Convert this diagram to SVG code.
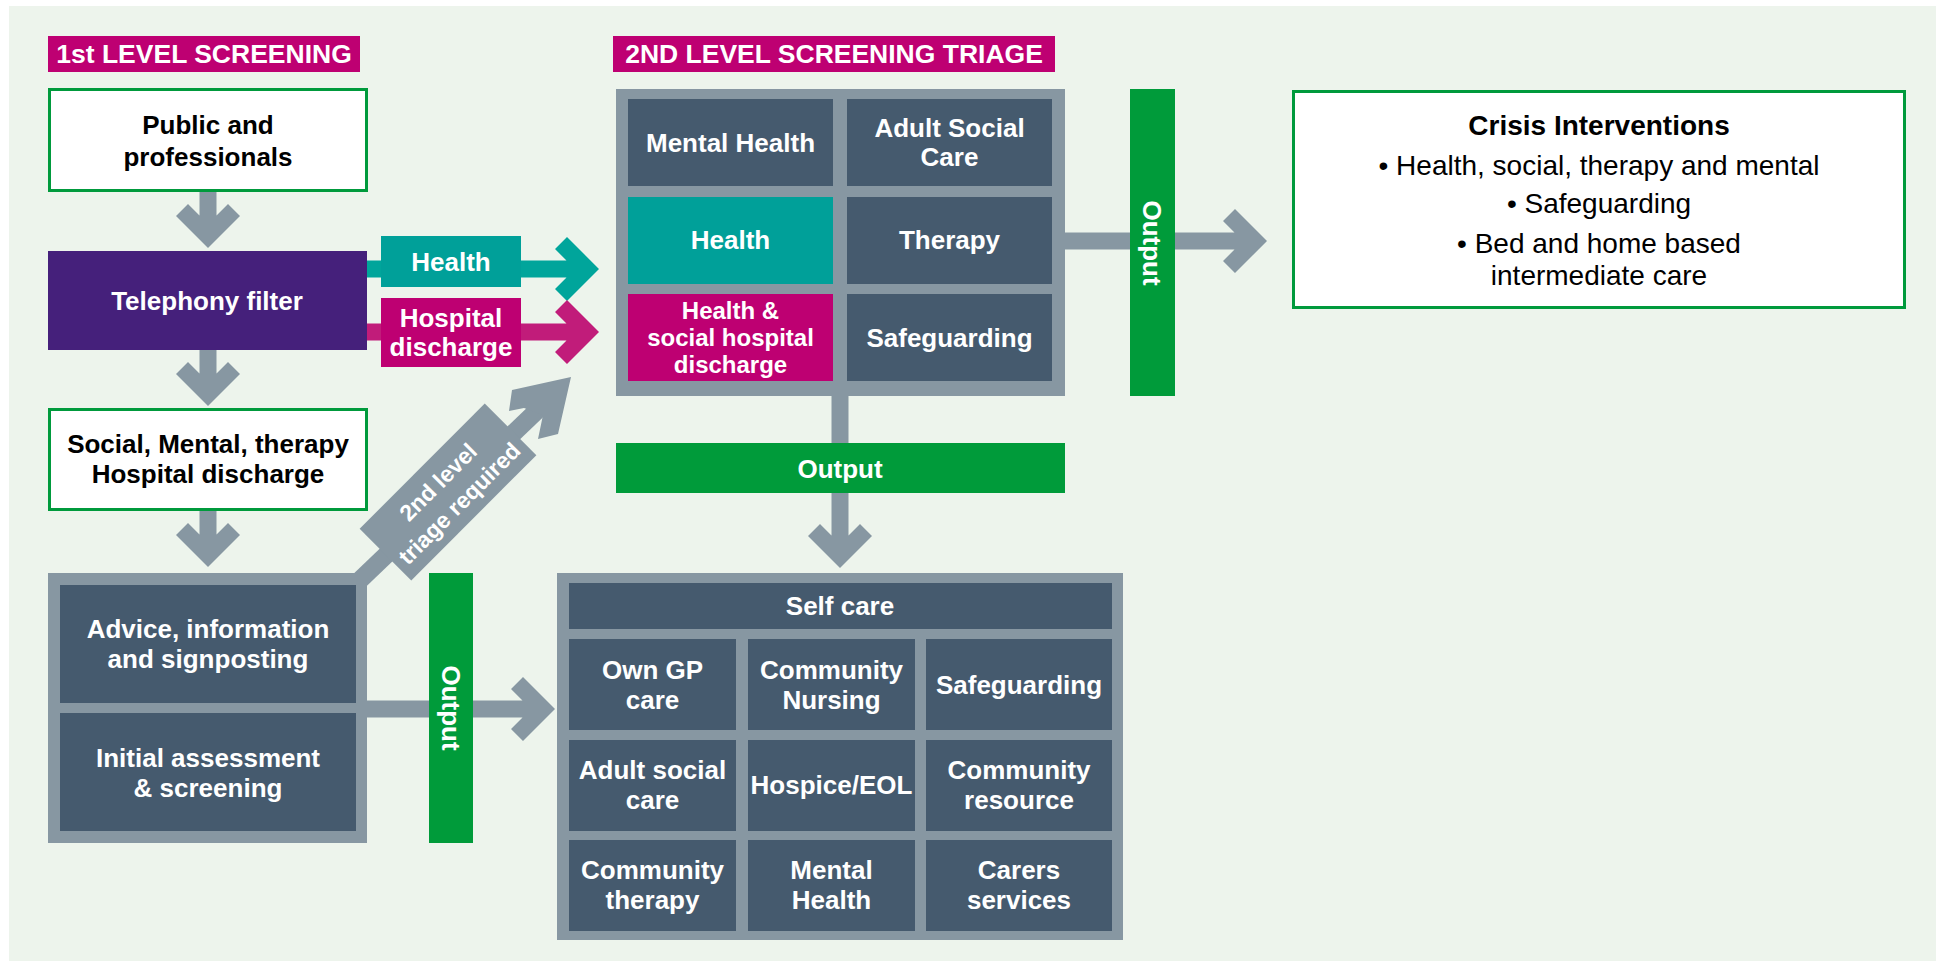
<svg xmlns="http://www.w3.org/2000/svg" width="1936" height="961" viewBox="0 0 1936 961">
<style>
text{font-family:"Liberation Sans",Arial,Helvetica,sans-serif;}
.t{font-size:26px;font-weight:bold;fill:#ffffff;text-anchor:middle;}
.ts{font-size:24px;font-weight:bold;fill:#ffffff;text-anchor:middle;}
.tb{font-size:26px;font-weight:bold;fill:#000000;text-anchor:middle;}
.hd{font-size:26.5px;font-weight:bold;fill:#ffffff;text-anchor:middle;}
.ci{font-size:28px;fill:#000000;text-anchor:middle;}
.cit{font-size:28px;font-weight:bold;fill:#000000;text-anchor:middle;}
.dg{font-size:23px;font-weight:bold;fill:#ffffff;text-anchor:middle;}
.wbox{fill:#ffffff;stroke:#009a3c;stroke-width:3;}
.frame{fill:#8797a2;}
.cell{fill:#455a6e;}
.teal{fill:#00a099;}
.mag{fill:#be0072;}
.purple{fill:#45207b;}
.green{fill:#009b3a;}
.arrow{fill:#8797a2;}
</style>
<rect x="9" y="6" width="1927" height="955" fill="#edf4ec"/>

<g id="connectors">
  <path class="arrow" d="M199.5,192 V215.5 L188,204 L176,216 L208,248 L240,216 L228,204 L216.5,215.5 V192 Z"/>
  <path class="arrow" d="M199.5,350 V373.5 L188,362 L176,374 L208,406 L240,374 L228,362 L216.5,373.5 V350 Z"/>
  <path class="arrow" d="M199.5,511 V534.5 L188,523 L176,535 L208,567 L240,535 L228,523 L216.5,534.5 V511 Z"/>
  <path fill="#00a59b" d="M366,260.5 H566.5 L555,249 L567,237 L599,269 L567,301 L555,289 L566.5,277.5 H366 Z"/>
  <path fill="#c11c7a" d="M366,323.5 H566.5 L555,312 L567,300 L599,332 L567,364 L555,352 L566.5,340.5 H366 Z"/>
  <path class="arrow" d="M1065,232.5 H1234.5 L1223,221 L1235,209 L1267,241 L1235,273 L1223,261 L1234.5,249.5 H1065 Z"/>
  <path class="arrow" d="M367,700.5 H522.5 L511,689 L523,677 L555,709 L523,741 L511,729 L522.5,717.5 H367 Z"/>
  <path class="arrow" d="M831.5,396 V535.5 L820,524 L808,536 L840,568 L872,536 L860,524 L848.5,535.5 V396 Z"/>
  <line x1="360" y1="580" x2="545" y2="403" stroke="#8797a2" stroke-width="18"/>
  <polygon class="arrow" points="571,377 512,390 509,411 524,408 543,415 538,439 558,434"/>
  <g transform="translate(448,492) rotate(-45)">
    <rect class="arrow" x="-88.5" y="-36.5" width="177" height="73"/>
    <text class="dg" x="0" y="-6">2nd level</text>
    <text class="dg" x="0" y="24">triage required</text>
  </g>
  <g id="label-health">
    <rect class="teal" x="381" y="236" width="140" height="51"/>
    <text class="t" x="451" y="271">Health</text>
  </g>
  <g id="label-hospital">
    <rect class="mag" x="381" y="298" width="140" height="69"/>
    <text class="t" x="451" y="327">Hospital</text>
    <text class="t" x="451" y="356">discharge</text>
  </g>
</g>

<g id="header-1">
  <rect class="mag" x="48" y="36" width="312" height="36"/>
  <text class="hd" x="204" y="63">1st LEVEL SCREENING</text>
</g>
<g id="header-2">
  <rect class="mag" x="613" y="36" width="442" height="36"/>
  <text class="hd" x="834" y="63">2ND LEVEL SCREENING TRIAGE</text>
</g>

<g id="public">
  <rect class="wbox" x="49.5" y="89.5" width="317" height="101"/>
  <text class="tb" x="208" y="134">Public and</text>
  <text class="tb" x="208" y="166">professionals</text>
</g>
<g id="telephony">
  <rect class="purple" x="48" y="251" width="319" height="99"/>
  <text class="t" x="207" y="310">Telephony filter</text>
</g>
<g id="social">
  <rect class="wbox" x="49.5" y="409.5" width="317" height="100"/>
  <text class="tb" x="208" y="453">Social, Mental, therapy</text>
  <text class="tb" x="208" y="483">Hospital discharge</text>
</g>

<g id="first-level-output">
  <rect class="frame" x="48" y="573" width="319" height="270"/>
  <g id="advice">
    <rect class="cell" x="60" y="585" width="296" height="118"/>
    <text class="t" x="208" y="638">Advice, information</text>
    <text class="t" x="208" y="668">and signposting</text>
  </g>
  <g id="initial">
    <rect class="cell" x="60" y="713" width="296" height="118"/>
    <text class="t" x="208" y="767">Initial assessment</text>
    <text class="t" x="208" y="797">&amp; screening</text>
  </g>
</g>

<g id="output-left">
  <rect class="green" x="429" y="573" width="44" height="270"/>
  <text class="t" transform="translate(441.5,708) rotate(90)">Output</text>
</g>

<g id="triage">
  <rect class="frame" x="616" y="89" width="449" height="307"/>
  <g id="triage-mental">
    <rect class="cell" x="628" y="99" width="205" height="87"/>
    <text class="t" x="730.5" y="152">Mental Health</text>
  </g>
  <g id="triage-adult">
    <rect class="cell" x="847" y="99" width="205" height="87"/>
    <text class="t" x="949.5" y="137">Adult Social</text>
    <text class="t" x="949.5" y="166">Care</text>
  </g>
  <g id="triage-health">
    <rect class="teal" x="628" y="197" width="205" height="87"/>
    <text class="t" x="730.5" y="249">Health</text>
  </g>
  <g id="triage-therapy">
    <rect class="cell" x="847" y="197" width="205" height="87"/>
    <text class="t" x="949.5" y="249">Therapy</text>
  </g>
  <g id="triage-discharge">
    <rect class="mag" x="628" y="294" width="205" height="87"/>
    <text class="ts" x="730.5" y="319">Health &amp;</text>
    <text class="ts" x="730.5" y="346">social hospital</text>
    <text class="ts" x="730.5" y="373">discharge</text>
  </g>
  <g id="triage-safeguarding">
    <rect class="cell" x="847" y="294" width="205" height="87"/>
    <text class="t" x="949.5" y="347">Safeguarding</text>
  </g>
</g>

<g id="output-right">
  <rect class="green" x="1130" y="89" width="45" height="307"/>
  <text class="t" transform="translate(1143,243) rotate(90)">Output</text>
</g>

<g id="output-bottom">
  <rect class="green" x="616" y="443" width="449" height="50"/>
  <text class="t" x="840" y="478">Output</text>
</g>

<g id="crisis">
  <rect class="wbox" x="1293.5" y="91.5" width="611" height="216"/>
  <text class="cit" x="1599" y="135">Crisis Interventions</text>
  <text class="ci" x="1599" y="175">• Health, social, therapy and mental</text>
  <text class="ci" x="1599" y="213">• Safeguarding</text>
  <text class="ci" x="1599" y="253">• Bed and home based</text>
  <text class="ci" x="1599" y="285">intermediate care</text>
</g>

<g id="services">
  <rect class="frame" x="557" y="573" width="566" height="367"/>
  <g id="self-care">
    <rect class="cell" x="569" y="583" width="543" height="46"/>
    <text class="t" x="840" y="615">Self care</text>
  </g>
  <g id="own-gp">
    <rect class="cell" x="569" y="639" width="167" height="91"/>
    <text class="t" x="652.5" y="679">Own GP</text>
    <text class="t" x="652.5" y="709">care</text>
  </g>
  <g id="community-nursing">
    <rect class="cell" x="748" y="639" width="167" height="91"/>
    <text class="t" x="831.5" y="679">Community</text>
    <text class="t" x="831.5" y="709">Nursing</text>
  </g>
  <g id="safeguarding">
    <rect class="cell" x="926" y="639" width="186" height="91"/>
    <text class="t" x="1019" y="694">Safeguarding</text>
  </g>
  <g id="adult-social-care">
    <rect class="cell" x="569" y="740" width="167" height="91"/>
    <text class="t" x="652.5" y="779">Adult social</text>
    <text class="t" x="652.5" y="809">care</text>
  </g>
  <g id="hospice">
    <rect class="cell" x="748" y="740" width="167" height="91"/>
    <text class="t" x="831.5" y="794">Hospice/EOL</text>
  </g>
  <g id="community-resource">
    <rect class="cell" x="926" y="740" width="186" height="91"/>
    <text class="t" x="1019" y="779">Community</text>
    <text class="t" x="1019" y="809">resource</text>
  </g>
  <g id="community-therapy">
    <rect class="cell" x="569" y="840" width="167" height="91"/>
    <text class="t" x="652.5" y="879">Community</text>
    <text class="t" x="652.5" y="909">therapy</text>
  </g>
  <g id="mental-health">
    <rect class="cell" x="748" y="840" width="167" height="91"/>
    <text class="t" x="831.5" y="879">Mental</text>
    <text class="t" x="831.5" y="909">Health</text>
  </g>
  <g id="carers">
    <rect class="cell" x="926" y="840" width="186" height="91"/>
    <text class="t" x="1019" y="879">Carers</text>
    <text class="t" x="1019" y="909">services</text>
  </g>
</g>
</svg>
